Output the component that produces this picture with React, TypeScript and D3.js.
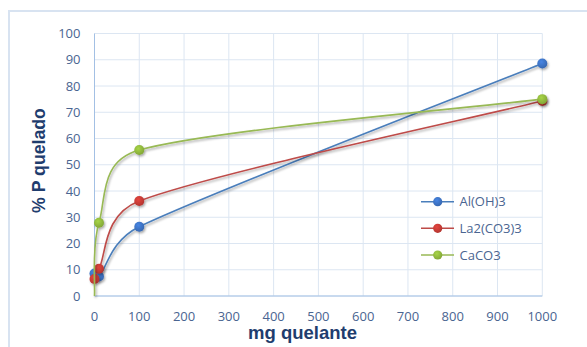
import React from "react";
import * as d3 from "d3";

// mg of chelating agent and % of phosphorus chelated for each binder
const doses = [0, 10, 100, 1000];
const seriesNames = ["Al(OH)3", "La2(CO3)3", "CaCO3"];
const alohValues = [8.6, 7.4, 26.4, 88.6];
const la2co3Values = [6.5, 10.4, 36.2, 74.3];
const caco3Values = [0, 27.9, 55.6, 75.0];
const lineColors = ["#4a7ebb", "#be4b48", "#98b954"];
const markerColors = ["#3b6fbe", "#c03a34", "#8cb23b"];
const xTicks = [0, 100, 200, 300, 400, 500, 600, 700, 800, 900, 1000];
const yTicks = [0, 10, 20, 30, 40, 50, 60, 70, 80, 90, 100];
const xTitle = "mg quelante";
const yTitle = "% P quelado";

const W = 587;
const H = 347;
const plot = { left: 94.5, right: 542.3, top: 33.5, bottom: 296 };

type Pt = [number, number];

// Spreadsheet-style smoothed line: cubic Bézier segments whose control
// points follow the neighbouring points (tension 1/6), capped at half
// the segment length so short segments never overshoot.
function smoothPath(pts: Pt[]): string {
  const p = d3.path();
  const dist = (a: Pt, b: Pt) => Math.hypot(b[0] - a[0], b[1] - a[1]);
  p.moveTo(pts[0][0], pts[0][1]);
  for (let i = 0; i < pts.length - 1; i++) {
    const p0 = pts[Math.max(0, i - 1)];
    const p1 = pts[i];
    const p2 = pts[i + 1];
    const p3 = pts[Math.min(pts.length - 1, i + 2)];
    const d12 = dist(p1, p2);
    const d02 = dist(p0, p2) || 1;
    const d13 = dist(p1, p3) || 1;
    const f1 = Math.min(1 / 6, d12 / 2 / d02);
    const f2 = Math.min(1 / 6, d12 / 2 / d13);
    const c1: Pt = [p1[0] + (p2[0] - p0[0]) * f1, p1[1] + (p2[1] - p0[1]) * f1];
    const c2: Pt = [p2[0] - (p3[0] - p1[0]) * f2, p2[1] - (p3[1] - p1[1]) * f2];
    p.bezierCurveTo(c1[0], c1[1], c2[0], c2[1], p2[0], p2[1]);
  }
  return p.toString();
}

export default function App() {
  const x = d3.scaleLinear().domain([0, 1000]).range([plot.left, plot.right]);
  const y = d3.scaleLinear().domain([0, 100]).range([plot.bottom, plot.top]);
  const allSeries = [alohValues, la2co3Values, caco3Values];

  const tickColor = "#4a6591";
  const titleColor = "#1f3d6e";
  const gridColor = "#dce6f2";
  const axisColor = "#a3c0e4";
  const font = "'Open Sans', 'Liberation Sans', sans-serif";

  const legendY = [201.7, 228.3, 255];

  return (
    <div style={{ position: "fixed", left: 0, top: 0, width: W, height: H }}>
      <svg width={W} height={H} style={{ display: "block", background: "#ffffff" }}>
        <defs>
          <filter id="shadow" x="-50%" y="-50%" width="200%" height="200%">
            <feDropShadow dx="1.2" dy="1.6" stdDeviation="1" floodColor="#000" floodOpacity="0.35" />
          </filter>
          {markerColors.map((c, i) => (
            <radialGradient key={i} id={`mk${i}`} cx="40%" cy="35%" r="70%">
              <stop offset="0%" stopColor={d3.color(c)!.brighter(0.5).formatHex()} />
              <stop offset="100%" stopColor={d3.color(c)!.darker(0.25).formatHex()} />
            </radialGradient>
          ))}
        </defs>

        {/* chart frame */}
        <rect x={9} y={11} width={620} height={400} fill="none" stroke="#d8e3f1" strokeWidth={2} />

        {/* grid */}
        {xTicks.map((t) => (
          <line key={`gx${t}`} x1={x(t)} x2={x(t)} y1={plot.top} y2={plot.bottom} stroke={gridColor} strokeWidth={1} />
        ))}
        {yTicks.map((t) => (
          <line key={`gy${t}`} x1={plot.left} x2={plot.right} y1={y(t)} y2={y(t)} stroke={gridColor} strokeWidth={1} />
        ))}
        <line x1={plot.left} x2={plot.left} y1={plot.top} y2={plot.bottom} stroke={axisColor} strokeWidth={1} />
        <line x1={plot.left} x2={plot.right} y1={plot.bottom} y2={plot.bottom} stroke={axisColor} strokeWidth={1} />

        {/* tick labels */}
        {yTicks.map((t) => (
          <text key={`ly${t}`} x={80.5} y={y(t)} dy="0.35em" textAnchor="end" fontFamily={font} fontSize={13} fill={tickColor}>
            {t}
          </text>
        ))}
        {xTicks.map((t) => (
          <text key={`lx${t}`} x={x(t)} y={320.8} textAnchor="middle" fontFamily={font} fontSize={13} fill={tickColor}>
            {t}
          </text>
        ))}

        {/* axis titles */}
        <text x={302.5} y={338.5} textAnchor="middle" fontFamily="'Liberation Sans', Arial, sans-serif" fontWeight="bold" fontSize={18.5} fill={titleColor}>
          {xTitle}
        </text>
        <text
          transform={`translate(45,160.5) rotate(-90)`}
          textAnchor="middle"
          fontFamily="'Liberation Sans', Arial, sans-serif"
          fontWeight="bold"
          fontSize={17.7}
          fill={titleColor}
        >
          {yTitle}
        </text>

        {/* series */}
        {allSeries.map((vals, i) => {
          const pts = doses.map((d, j) => [x(d), y(vals[j])] as Pt);
          return (
            <g key={`s${i}`} filter="url(#shadow)">
              <path d={smoothPath(pts)} fill="none" stroke={lineColors[i]} strokeWidth={1.6} />
              {doses.map((d, j) =>
                vals[j] > 0 ? <circle key={j} cx={x(d)} cy={y(vals[j])} r={5} fill={`url(#mk${i})`} /> : null
              )}
            </g>
          );
        })}

        {/* legend */}
        {seriesNames.map((name, i) => (
          <g key={`lg${i}`}>
            <line x1={421} x2={454} y1={legendY[i]} y2={legendY[i]} stroke={lineColors[i]} strokeWidth={1.4} />
            <circle cx={437.7} cy={legendY[i]} r={4.6} fill={`url(#mk${i})`} />
            <text x={459.5} y={legendY[i]} dy="0.36em" fontFamily={font} fontSize={13} fill={tickColor}>
              {name}
            </text>
          </g>
        ))}
      </svg>
    </div>
  );
}
